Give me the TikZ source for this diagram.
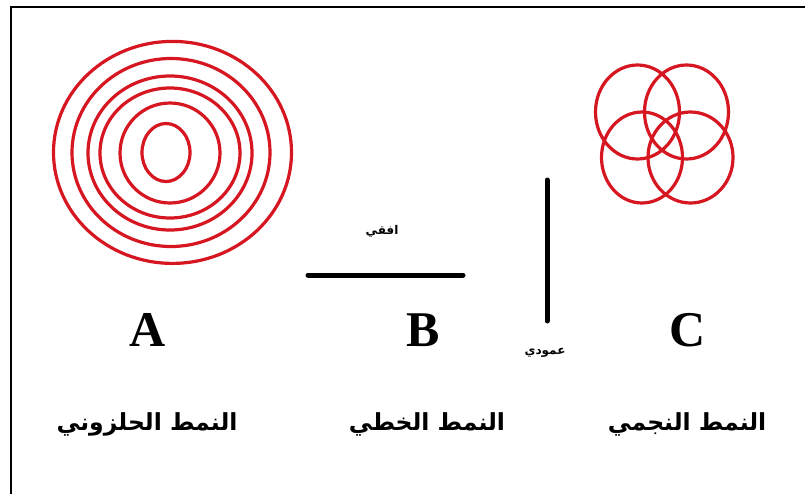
\documentclass[tikz,border=0pt]{standalone}
\usepackage{fontspec}
\setmainfont{Liberation Serif}
\newfontfamily\arabicfont[Script=Arabic]{DejaVu Sans}
\TeXXeTstate=1
\definecolor{ringred}{RGB}{214,22,32}
\tikzset{
  ring/.style={draw=ringred, line width=3.2pt},
  bar/.style={line width=5pt, line cap=round},
  letter/.style={font=\bfseries\fontsize{50}{50}\selectfont},
  bigar/.style={font=\arabicfont\bfseries\fontsize{23.5}{26}\selectfont},
  smallar/.style={font=\arabicfont\bfseries\fontsize{12}{14}\selectfont},
}
\begin{document}
\begin{tikzpicture}[x=1pt,y=-1pt]
\useasboundingbox (0,0) rectangle (805,493);
\fill[white] (0,0) rectangle (805,493);
\begin{scope}
\clip (0,0) rectangle (805,493);
\draw[line width=2.8pt] (11,7) rectangle (820,510);
\end{scope}
% spiral pattern A
\draw[ring] (172.5,152.4) ellipse [x radius=119, y radius=111];
\draw[ring] (171,152.5) ellipse [x radius=99, y radius=94];
\draw[ring] (170,153) ellipse [x radius=82, y radius=77];
\draw[ring] (170,153) ellipse [x radius=70, y radius=65];
\draw[ring] (170,153) ellipse [x radius=50, y radius=50];
\draw[ring] (166,152.5) ellipse [x radius=24, y radius=29];
% star pattern C
\draw[ring] (637.5,112) ellipse [x radius=42, y radius=47];
\draw[ring] (686.5,112) ellipse [x radius=42, y radius=47];
\draw[ring] (642,157.5) ellipse [x radius=40.5, y radius=45.5];
\draw[ring] (690.5,157.5) ellipse [x radius=42.5, y radius=45.5];
% linear pattern B
\coordinate (h1) at (308,275);
\coordinate (h2) at (463,275);
\coordinate (v1) at (547,180);
\coordinate (v2) at (547,321);
\draw[bar] (h1) -- (h2);
\draw[bar] (v1) -- (v2);
\node[smallar] (hz) at (382,231) {\beginR افقي\endR};
\node[smallar] (vt) at (545,353) {\beginR عمودي\endR};
% letters
\node[letter] (A) at (148,330) {A};
\node[letter] (B) at (423,330) {B};
\node[letter] (C) at (688,330) {C};
% names
\node[bigar] (nA) at (147,424) {\beginR النمط الحلزوني\endR};
\node[bigar] (nB) at (427,424) {\beginR النمط الخطي\endR};
\node[bigar] (nC) at (687,424) {\beginR النمط النجمي\endR};
\end{tikzpicture}
\end{document}
